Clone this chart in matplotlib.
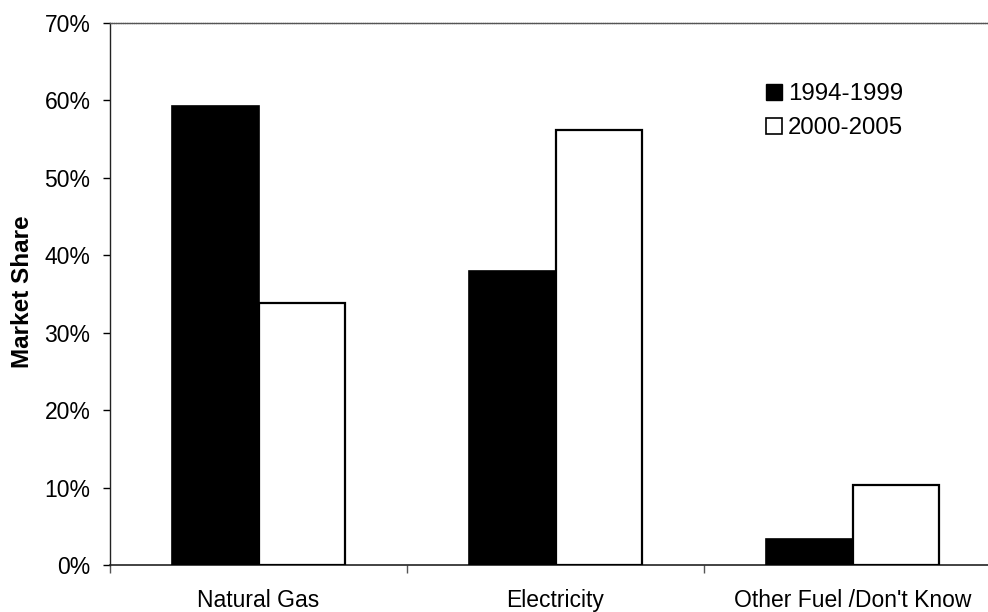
import matplotlib
matplotlib.use("Agg")
import matplotlib.pyplot as plt
from matplotlib.patches import Patch
from matplotlib.ticker import FuncFormatter
import numpy as np

plt.rcParams['font.family'] = ['Liberation Sans', 'DejaVu Sans']

categories = ["Natural Gas", "Electricity", "Other Fuel /Don't Know"]
series_names = ["1994-1999", "2000-2005"]
values_1994_1999 = [59.3, 38.0, 3.3]
values_2000_2005 = [33.8, 56.2, 10.3]

W, H = 988, 612
fig = plt.figure(figsize=(W / 100, H / 100), dpi=100)
ax = fig.add_axes([110 / W, 47 / H, 891 / W, 542 / H])

x = np.arange(len(categories))
bw = 0.29
ax.bar(x - bw / 2, values_1994_1999, bw, color='black', edgecolor='black',
       linewidth=1.2, label=series_names[0], zorder=3)
ax.bar(x + bw / 2, values_2000_2005, bw, color='white', edgecolor='black',
       linewidth=1.6, label=series_names[1], zorder=3)

ax.set_xlim(-0.5, len(categories) - 0.5)
ax.set_ylim(0, 70)
ax.set_yticks(np.arange(0, 71, 10))
ax.yaxis.set_major_formatter(FuncFormatter(lambda v, p: f"{int(v)}%"))
ax.tick_params(axis='y', direction='out', length=5, width=1, labelsize=16.5, pad=9)

ax.set_xticks(x)
ax.set_xticklabels(categories, fontsize=16.5)
ax.tick_params(axis='x', which='major', length=0, pad=17)
ax.set_xticks(np.arange(-0.5, len(categories) + 0.5, 1), minor=True)
ax.tick_params(axis='x', which='minor', direction='out', length=6, width=1, color='#555555')

ax.set_ylabel("Market Share", fontsize=17.5, fontweight='bold')
ax.yaxis.set_label_coords(-(110 - 34) / 891, 0.505)

ax.spines['right'].set_visible(False)
ax.spines['top'].set_color('#555555')
ax.spines['top'].set_linewidth(1.0)
ax.spines['top'].set_linestyle((0, (1, 0.6)))
ax.spines['left'].set_color('#222222')
ax.spines['left'].set_linewidth(1.0)
ax.spines['bottom'].set_color('#222222')
ax.spines['bottom'].set_linewidth(1.2)

handles = [Patch(facecolor='black', edgecolor='black', linewidth=1.0),
           Patch(facecolor='white', edgecolor='black', linewidth=1.2)]
fig.legend(handles, series_names, loc='upper left',
           bbox_to_anchor=(766 / W, 1 - 83 / H), frameon=False, fontsize=17.3,
           handlelength=0.65, handleheight=0.65, handletextpad=0.25,
           labelspacing=0.5, borderpad=0, borderaxespad=0)

fig.savefig("out.png", dpi=100)
